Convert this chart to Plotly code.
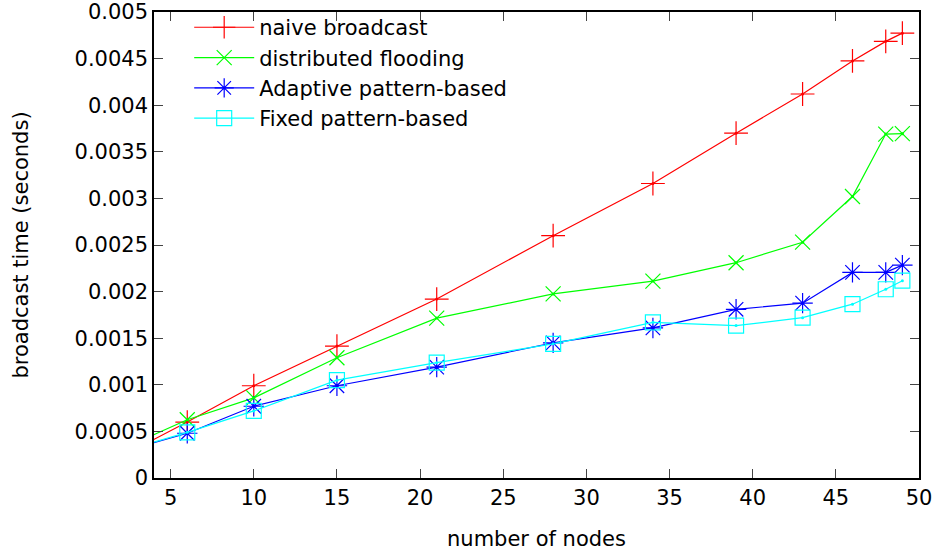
import plotly.graph_objects as go

nodes = [2, 6, 10, 15, 21, 28, 34, 39, 43, 46, 48, 49]
naive = [0.00023, 0.00060, 0.00099, 0.001415, 0.00192, 0.0026, 0.00316, 0.0037, 0.00412, 0.004475, 0.004685, 0.004773]
flooding = [0.000305, 0.000625, 0.00086, 0.00129, 0.001716, 0.001975, 0.002113, 0.00231, 0.00253, 0.00302, 0.00369, 0.003695]
adaptive = [0.00028, 0.00048, 0.00077, 0.00099, 0.00119, 0.00145, 0.00161, 0.00181, 0.001876, 0.002206, 0.002206, 0.002284]
fixed = [0.00028, 0.00049, 0.00072, 0.00105, 0.001237, 0.00144, 0.00167, 0.001635, 0.00172, 0.001865, 0.002025, 0.002117]

x_ticks = [5, 10, 15, 20, 25, 30, 35, 40, 45, 50]
y_ticks = [0, 0.0005, 0.001, 0.0015, 0.002, 0.0025, 0.003, 0.0035, 0.004, 0.0045, 0.005]
y_tick_text = ["0", "0.0005", "0.001", "0.0015", "0.002", "0.0025", "0.003", "0.0035", "0.004", "0.0045", "0.005"]

series = [
    ("naive broadcast", naive, "#ff0000", "cross-thin", 17),
    ("distributed flooding", flooding, "#00ff00", "x-thin", 15),
    ("Adaptive pattern-based", adaptive, "#0000ff", "asterisk", 17),
    ("Fixed pattern-based", fixed, "#00ffff", "square-open", 15),
]

FONT = "DejaVu Sans"

fig = go.Figure()
for name, ys, color, sym, sz in series:
    fig.add_trace(go.Scatter(
        x=nodes, y=ys, name=name, mode="lines+markers",
        line=dict(color=color, width=1.2),
        marker=dict(symbol=sym, size=sz, color=color, line=dict(color=color, width=1.2)),
        cliponaxis=True,
    ))
for name, ys, color, sym, sz in series:
    fig.add_trace(go.Scatter(
        x=nodes, y=ys, mode="markers", showlegend=False, hoverinfo="skip",
        marker=dict(symbol="circle", size=3, color=color),
        cliponaxis=True,
    ))

fig.update_layout(
    width=940, height=556,
    margin=dict(l=154, r=21, t=12, b=78, autoexpand=False),
    paper_bgcolor="white", plot_bgcolor="white",
    font=dict(family=FONT, size=21, color="black"),
    showlegend=True,
    legend=dict(x=0.046, y=1.0105, xanchor="left", yanchor="top",
                bgcolor="rgba(0,0,0,0)", font=dict(family=FONT, size=21, color="black"),
                tracegroupgap=0, itemwidth=60),
    xaxis=dict(range=[4, 50], tickvals=x_ticks, ticks="inside", ticklen=9,
               tickcolor="#444", showgrid=False, zeroline=False, automargin=False,
               showline=True, linecolor="black", linewidth=1.5, mirror="ticks",
               ticklabeloverflow="allow",
               title=dict(text="number of nodes", standoff=22,
                          font=dict(family=FONT, size=21, color="black")),
               tickfont=dict(family=FONT, size=21, color="black")),
    yaxis=dict(range=[0, 0.005], tickvals=y_ticks, ticktext=y_tick_text,
               ticks="inside", ticklen=9, tickcolor="#444", showgrid=False,
               zeroline=False, showline=True, linecolor="black", linewidth=1.5,
               automargin=False, mirror="ticks", ticklabeloverflow="allow",
               title=dict(text="broadcast time (seconds)", standoff=40,
                          font=dict(family=FONT, size=21, color="black")),
               tickfont=dict(family=FONT, size=21, color="black")),
)

fig.write_html("out.html", config={"displayModeBar": False},
               post_script="document.body.style.margin='0';")
